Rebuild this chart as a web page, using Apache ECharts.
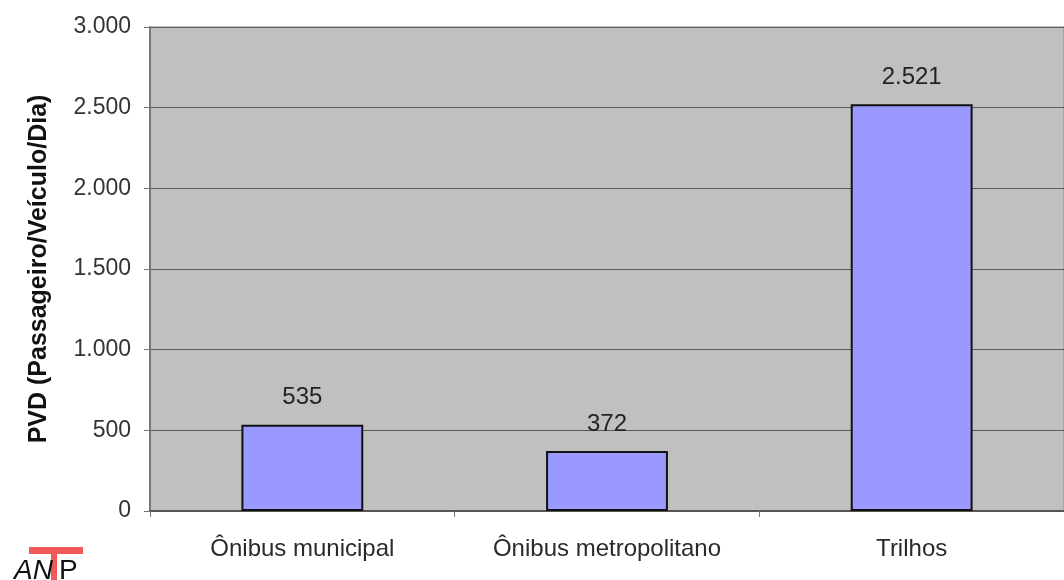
<!DOCTYPE html>
<html>
<head>
<meta charset="utf-8">
<script src="https://cdn.jsdelivr.net/npm/echarts@6/dist/echarts.min.js"></script>
<style>
  html, body { margin: 0; padding: 0; background: #fff; }
  #chart { width: 1064px; height: 580px; }
</style>
</head>
<body>
<div id="chart"></div>
<script>
// values
const categories = ['Ônibus municipal', 'Ônibus metropolitano', 'Trilhos']
const pvdValues = [535, 372, 2521]
const yTicks = [0, 500, 1000, 1500, 2000, 2500, 3000]

const fmt = v => String(v).replace(/\B(?=(\d{3})+(?!\d))/g, '.')

const chart = echarts.init(document.getElementById('chart'))

chart.setOption({
    animation: false,
    textStyle: { fontFamily: 'Liberation Sans, Arial, sans-serif' },
    grid: {
        left: 150, top: 27, right: -6, bottom: 69,
        show: true,
        backgroundColor: '#c0c0c0',
        borderColor: '#8a8a8a',
        borderWidth: 1
    },
    xAxis: {
        type: 'category',
        data: categories,
        axisLine: { lineStyle: { color: '#555', width: 2 } },
        axisTick: { show: true, length: 6, lineStyle: { color: '#777' } },
        axisLabel: { color: '#2a2a2a', fontSize: 24, margin: 26 }
    },
    yAxis: {
        type: 'value',
        min: yTicks[0],
        max: yTicks[yTicks.length - 1],
        interval: 500,
        name: 'PVD (Passageiro/Veículo/Dia)',
        nameLocation: 'middle',
        nameGap: 98,
        nameTextStyle: { color: '#111', fontSize: 25, fontWeight: 'bold' },
        axisLine: { show: true, lineStyle: { color: '#777', width: 2 } },
        axisTick: { show: true, length: 6, lineStyle: { color: '#777' } },
        axisLabel: { color: '#333', fontSize: 23, margin: 19, formatter: fmt },
        splitLine: { lineStyle: { color: '#5a5a5a', width: 1 } }
    },
    series: [{
        type: 'bar',
        data: pvdValues,
        barWidth: '40%',
        itemStyle: { color: '#9999ff', borderColor: '#111', borderWidth: 2 },
        label: {
            show: true,
            position: 'top',
            distance: 15,
            color: '#222',
            fontSize: 24,
            formatter: p => fmt(p.value)
        }
    }],
    graphic: [
        { type: 'rect', left: 29, top: 547, shape: { width: 54, height: 7 }, style: { fill: '#f05a5a' } },
        { type: 'rect', left: 51, top: 552, shape: { width: 6, height: 28 }, style: { fill: '#f05a5a' } },
        { type: 'text', left: 14, top: 557, style: { text: 'AN', fill: '#111', font: 'italic 28px Liberation Sans, Arial, sans-serif' } },
        { type: 'text', left: 59, top: 557, style: { text: 'P', fill: '#111', font: '28px Liberation Sans, Arial, sans-serif' } }
    ]
})
</script>
</body>
</html>
